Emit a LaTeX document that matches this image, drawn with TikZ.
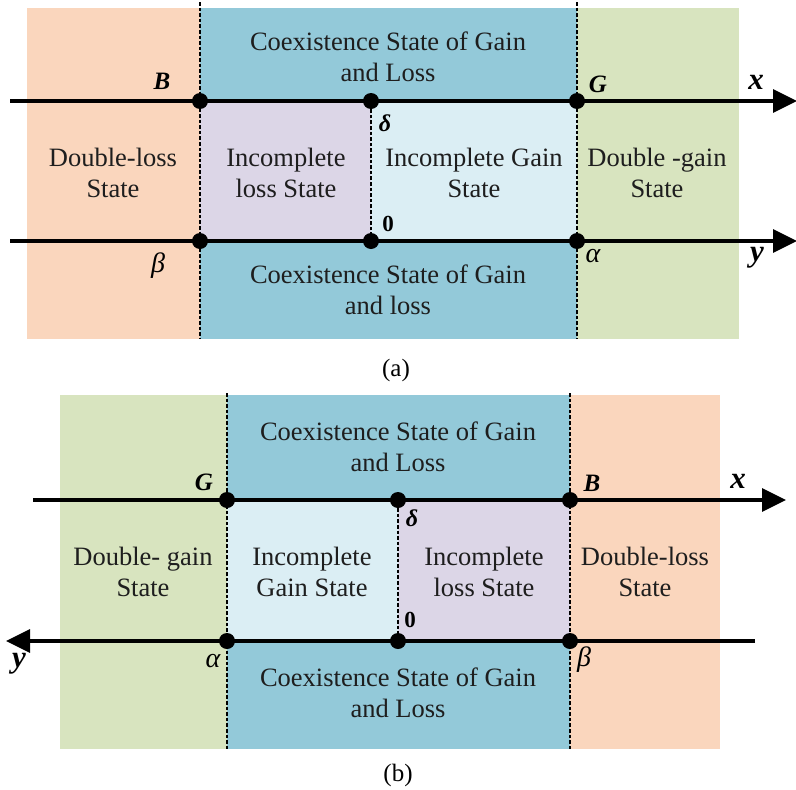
\documentclass[tikz,border=0pt]{standalone}
\usepackage{fontspec}
\setmainfont{Liberation Serif}
\usetikzlibrary{arrows.meta}
\definecolor{peach}{HTML}{FAD6BD}
\definecolor{coex}{HTML}{93C9D9}
\definecolor{lilac}{HTML}{DCD6E7}
\definecolor{pale}{HTML}{DBEEF4}
\definecolor{olive}{HTML}{D8E4BF}
\definecolor{ink}{HTML}{1E1E1E}
\begin{document}
\begin{tikzpicture}[x=1pt,y=-1pt,
 txt/.style={align=center,font=\fontsize{26.5}{31}\selectfont,text=ink,inner sep=0},
 lbl/.style={font=\fontsize{25}{28}\selectfont\bfseries\itshape,inner sep=0},
 axlbl/.style={font=\fontsize{31}{34}\selectfont\bfseries\itshape,inner sep=0},
 glbl/.style={font=\fontsize{28}{30}\selectfont\itshape,inner sep=0},
 dlbl/.style={font=\fontsize{24}{28}\selectfont\bfseries\itshape,inner sep=0},
 blbl/.style={font=\fontsize{23}{28}\selectfont\bfseries,inner sep=0},
 captxt/.style={font=\fontsize{25}{28}\selectfont,inner sep=0},
 dot/.style={circle,fill=black,minimum size=16pt,inner sep=0},
 axis/.style={line width=3.4pt},
 sep/.style={line width=2.8pt,dash pattern=on 3.6pt off 2pt},
 arr/.style={-{Triangle[length=24pt,width=23pt]}}]
\useasboundingbox (0,0) rectangle (796,790);
\fill[white] (0,0) rectangle (796,790);
% ---------- panel (a) ----------
\fill[peach] (27,8) rectangle (200,339);
\fill[coex] (200,8) rectangle (577,101);
\fill[coex] (200,241) rectangle (577,339);
\fill[lilac] (200,101) rectangle (371,241);
\fill[pale] (371,101) rectangle (577,241);
\fill[olive] (577,8) rectangle (739,339);
\coordinate (aLt) at (200,2); \coordinate (aLb) at (200,339);
\coordinate (aRt) at (577,2); \coordinate (aRb) at (577,339);
\draw[sep] (aLt) -- (aLb);
\draw[sep] (aRt) -- (aRb);
\node[dot] (aB) at (200,101) {};
\node[dot] (aD) at (371,101) {};
\node[dot] (aG) at (577,101) {};
\node[dot] (aBe) at (200,241) {};
\node[dot] (aZ) at (371,241) {};
\node[dot] (aAl) at (577,241) {};
\draw[sep] (aD) -- (aZ);
\coordinate (axs) at (10,101); \coordinate (axe) at (797,101);
\coordinate (ays) at (10,241); \coordinate (aye) at (797,241);
\draw[axis,arr] (axs) -- (axe);
\draw[axis,arr] (ays) -- (aye);
\node[txt] (aT1) at (388,57) {Coexistence State of Gain\\and Loss};
\node[txt] (aT2) at (388,290) {Coexistence State of Gain\\and loss};
\node[txt] (aT3) at (113,173) {Double-loss\\State};
\node[txt] (aT4) at (286,173) {Incomplete\\loss State};
\node[txt] (aT5) at (474,173) {Incomplete Gain\\State};
\node[txt] (aT6) at (657,173) {Double -gain\\State};
\node[lbl] (aLB) at (162,81) {B};
\node[dlbl] (aLD) at (385,123) {δ};
\node[lbl] (aLG) at (598,84) {G};
\node[axlbl] (aLx) at (756,82) {x};
\node[blbl] (aLZ) at (388,224) {0};
\node[glbl] (aLBe) at (158,266) {β};
\node[glbl] (aLAl) at (593,256) {α};
\node[axlbl] (aLy) at (757,258) {y};
\node[captxt] (capa) at (396,370) {(a)};
% ---------- panel (b) ----------
\fill[olive] (60,395) rectangle (227,749);
\fill[coex] (227,395) rectangle (570,500);
\fill[coex] (227,641) rectangle (570,749);
\fill[pale] (227,500) rectangle (398,641);
\fill[lilac] (398,500) rectangle (570,641);
\fill[peach] (570,395) rectangle (720,749);
\coordinate (bLt) at (227,393); \coordinate (bLb) at (227,749);
\coordinate (bRt) at (570,393); \coordinate (bRb) at (570,749);
\draw[sep] (bLt) -- (bLb);
\draw[sep] (bRt) -- (bRb);
\node[dot] (bG) at (227,500) {};
\node[dot] (bD) at (398,500) {};
\node[dot] (bB) at (570,500) {};
\node[dot] (bAl) at (227,641) {};
\node[dot] (bZ) at (398,641) {};
\node[dot] (bBe) at (570,641) {};
\draw[sep] (bD) -- (bZ);
\coordinate (bxs) at (33,500); \coordinate (bxe) at (786,500);
\coordinate (bys) at (755,641); \coordinate (bye) at (6,641);
\draw[axis,arr] (bxs) -- (bxe);
\draw[axis,arr] (bys) -- (bye);
\node[txt] (bT1) at (398,447) {Coexistence State of Gain\\and Loss};
\node[txt] (bT2) at (398,693) {Coexistence State of Gain\\and Loss};
\node[txt] (bT3) at (143,572) {Double- gain\\State};
\node[txt] (bT4) at (312,572) {Incomplete\\Gain State};
\node[txt] (bT5) at (484,572) {Incomplete\\loss State};
\node[txt] (bT6) at (645,572) {Double-loss\\State};
\node[lbl] (bLG) at (204,482) {G};
\node[lbl] (bLB) at (592,483) {B};
\node[axlbl] (bLx) at (738,481) {x};
\node[dlbl] (bLD) at (412,518) {δ};
\node[blbl] (bLZ) at (410,620) {0};
\node[glbl] (bLAl) at (213,661) {α};
\node[glbl] (bLBe) at (584,660) {β};
\node[axlbl] (bLy) at (19,664) {y};
\node[captxt] (capb) at (398,775) {(b)};
\end{tikzpicture}
\end{document}
